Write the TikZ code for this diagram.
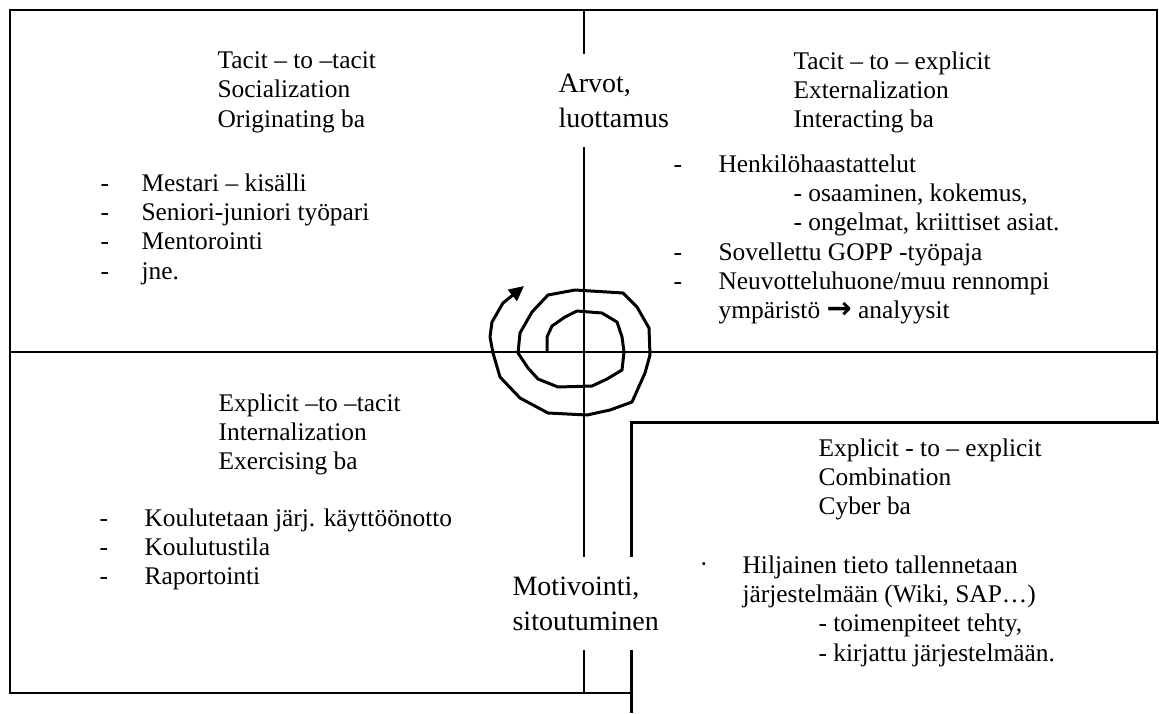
\documentclass[tikz,border=0pt]{standalone}
\usepackage{fontspec}
\setmainfont{Liberation Serif}
\newfontfamily\arrowfont{DejaVu Sans}
\usetikzlibrary{arrows.meta}
\newcommand{\itm}[1][41pt]{\makebox[#1][l]{-}}
\begin{document}
\begin{tikzpicture}[x=1pt, y=-1pt, line width=1.2pt,
  quad/.style={anchor=north west, align=left, inner sep=0pt, font=\fontsize{25.4}{29.3}\selectfont},
  lbl/.style={anchor=north west, align=left, fill=white, inner xsep=3pt, inner ysep=20pt, font=\fontsize{28}{35}\selectfont}]
  \fill[white] (0,0) rectangle (1159,713);
  \useasboundingbox (0,0) rectangle (1159,713);
  \draw (631,693) -- (10,693) -- (10,10) -- (1157,10) -- (1157,422);
  \draw (10,352) -- (1157,352);
  \draw (584,10) -- (584,693);
  \draw[line width=3pt] (631,713) -- (631,422) -- (1159,422);
  \draw[line width=3pt, line join=round, -{Triangle[length=15pt,width=14pt]}]
    (547,352) -- (547,337) -- (552,326) -- (565,317) -- (577,311) -- (602,313) -- (617,322)
    -- (622,337) -- (624,352) -- (622,370) -- (607,379) -- (592,386) -- (558,387) -- (538,379)
    -- (528,368) -- (518,353) -- (520,333) -- (532,312) -- (548,295) -- (575,290) -- (623,293)
    -- (637,307) -- (649,328) -- (650,355) -- (645,373) -- (632,402) -- (610,410) -- (587,415)
    -- (548,413) -- (520,398) -- (500,377) -- (493,353) -- (490,337) -- (492,322) -- (503,303)
    -- (524,286);
  \node[quad] (tlhead) at (217,51) {Tacit – to –tacit\\Socialization\\Originating ba};
  \node[quad] (tllist) at (100,173) {\itm Mestari – kisälli\\\itm Seniori-juniori työpari\\\itm Mentorointi\\\itm jne.};
  \node[quad] (trhead) at (793,51) {Tacit – to – explicit\\Externalization\\Interacting ba};
  \node[quad] (trlist) at (673,154) {\itm[45pt]Henkilöhaastattelut\\\hspace*{120pt}- osaaminen, kokemus,\\\hspace*{120pt}- ongelmat, kriittiset asiat.\\\itm[45pt]Sovellettu GOPP -työpaja\\\itm[45pt]Neuvotteluhuone/muu rennompi\\\hspace*{45pt}ympäristö {\arrowfont\bfseries\fontsize{30}{30}\selectfont →} analyysit};
  \node[quad] (blhead) at (218,393) {Explicit –to –tacit\\Internalization\\Exercising ba};
  \node[quad] (bllist) at (99,508) {\itm[45pt]Koulutetaan järj. käyttöönotto\\\itm[45pt]Koulutustila\\\itm[45pt]Raportointi};
  \node[quad] (brhead) at (818,438) {Explicit - to – explicit\\Combination\\Cyber ba};
  \node[quad, anchor=base west] (brdot) at (699,572) {·};
  \node[quad] (brlist) at (742,555) {Hiljainen tieto tallennetaan\\järjestelmään (Wiki, SAP…)\\\hspace*{76pt}- toimenpiteet tehty,\\\hspace*{76pt}- kirjattu järjestelmään.};
  \node[lbl] (arvot) at (555,53) {Arvot,\\luottamus};
  \node[lbl] (motiv) at (509,556) {Motivointi,\\sitoutuminen};
\end{tikzpicture}
\end{document}
